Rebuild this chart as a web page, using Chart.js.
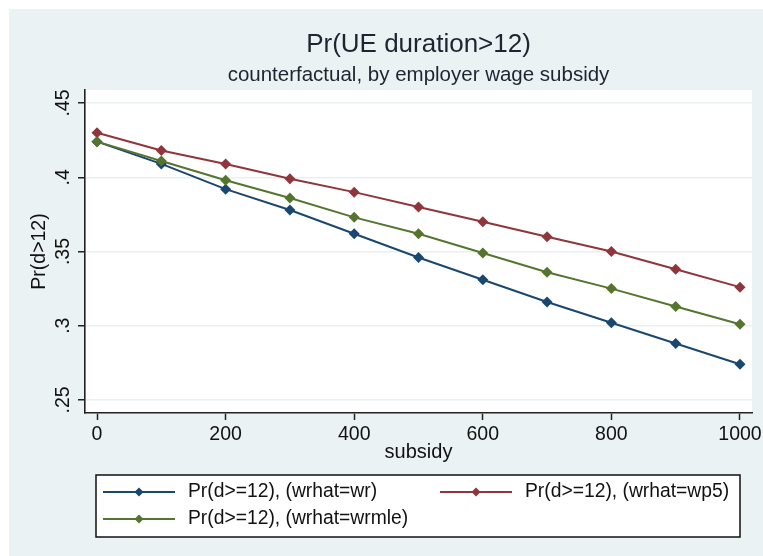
<!DOCTYPE html>
<html>
<head>
<meta charset="utf-8">
<script src="https://cdn.jsdelivr.net/npm/chart.js@4/dist/chart.umd.min.js"></script>
<style>
  body { margin: 0; background: #fff; }
  #wrap { width: 763px; height: 556px; }
</style>
</head>
<body>
<div id="wrap"><canvas id="myChart" width="763" height="556"></canvas></div>
<script>
// subsidy levels on the x axis
const subsidy = [0, 100, 200, 300, 400, 500, 600, 700, 800, 900, 1000];
// Pr(d>=12) for each wage model
const prWr = [0.424, 0.409, 0.392, 0.378, 0.362, 0.346, 0.331, 0.316, 0.302, 0.288, 0.274];
const prWp5 = [0.430, 0.418, 0.409, 0.399, 0.390, 0.380, 0.370, 0.360, 0.350, 0.338, 0.326];
const prWrmle = [0.424, 0.411, 0.398, 0.386, 0.373, 0.362, 0.349, 0.336, 0.325, 0.313, 0.301];

const seriesLabels = ["Pr(d>=12), (wrhat=wr)", "Pr(d>=12), (wrhat=wp5)", "Pr(d>=12), (wrhat=wrmle)"];
const xTicks = [0, 200, 400, 600, 800, 1000];
const xTickLabels = ["0", "200", "400", "600", "800", "1000"];
const yTicks = [0.25, 0.3, 0.35, 0.4, 0.45];
const yTickLabels = [".25", ".3", ".35", ".4", ".45"];

const titleText = "Pr(UE duration>12)";
const subtitleText = "counterfactual, by employer wage subsidy";

const FONT = "'Liberation Sans', Arial, sans-serif";
const BG = "#eaf2f3";

function toPoints(ys) {
  return subsidy.map(function (x, i) { return { x: x, y: ys[i] }; });
}

// Stata-like backdrop, titles and boxed legend
const stataLook = {
  id: "stataLook",
  beforeDraw(chart) {
    const ctx = chart.ctx;
    const a = chart.chartArea;
    ctx.save();
    ctx.fillStyle = "#fff";
    ctx.fillRect(0, 0, chart.width, chart.height);
    ctx.fillStyle = BG;
    ctx.fillRect(9, 9, chart.width - 9, chart.height - 9);
    ctx.fillStyle = "#fff";
    ctx.fillRect(a.left, a.top, a.right - a.left, a.bottom - a.top);
    const cx = (a.left + a.right) / 2;
    ctx.fillStyle = "#1e2430";
    ctx.textAlign = "center";
    ctx.textBaseline = "middle";
    ctx.font = "26px " + FONT;
    ctx.fillText(titleText, cx, 45);
    ctx.font = "20.5px " + FONT;
    ctx.fillText(subtitleText, cx, 75);
    ctx.restore();
  },
  afterDraw(chart) {
    const ctx = chart.ctx;
    const box = { x: 96, y: 475, w: 644, h: 62 };
    ctx.save();
    ctx.fillStyle = "#fff";
    ctx.fillRect(box.x, box.y, box.w, box.h);
    ctx.strokeStyle = "#111";
    ctx.lineWidth = 1.5;
    ctx.strokeRect(box.x, box.y, box.w, box.h);
    const slots = [
      { x: 103, y: 492 },
      { x: 440, y: 492 },
      { x: 103, y: 519 }
    ];
    ctx.font = "19.3px " + FONT;
    ctx.textBaseline = "middle";
    ctx.textAlign = "left";
    chart.data.datasets.forEach(function (ds, i) {
      const s = slots[i];
      ctx.strokeStyle = ds.borderColor;
      ctx.lineWidth = 2;
      ctx.beginPath();
      ctx.moveTo(s.x, s.y);
      ctx.lineTo(s.x + 72, s.y);
      ctx.stroke();
      const mx = s.x + 36, r = 4.5;
      ctx.fillStyle = ds.borderColor;
      ctx.beginPath();
      ctx.moveTo(mx, s.y - r);
      ctx.lineTo(mx + r, s.y);
      ctx.lineTo(mx, s.y + r);
      ctx.lineTo(mx - r, s.y);
      ctx.closePath();
      ctx.fill();
      ctx.fillStyle = "#111";
      ctx.fillText(ds.label, s.x + 85, s.y);
    });
    ctx.restore();
  }
};

const colors = ["#1a476f", "#90353b", "#55752f"];

const datasets = [prWr, prWp5, prWrmle].map(function (ys, i) {
  return {
    label: seriesLabels[i],
    data: toPoints(ys),
    borderColor: colors[i],
    backgroundColor: colors[i],
    borderWidth: 2,
    pointStyle: "rectRot",
    pointRadius: 5.5,
    pointBorderWidth: 0,
    tension: 0,
    order: 3 - i
  };
});

const config = {
  type: "line",
  data: { datasets: datasets },
  plugins: [stataLook],
  options: {
    responsive: false,
    animation: false,
    devicePixelRatio: 1,
    layout: { padding: { left: 0, right: 11, top: 90, bottom: 0 } },
    plugins: {
      legend: { display: false },
      title: { display: false },
      tooltip: { enabled: false }
    },
    scales: {
      x: {
        type: "linear",
        min: -18.7,
        max: 1018.7,
        afterBuildTicks: function (s) { s.ticks = xTicks.map(function (v) { return { value: v }; }); },
        afterFit: function (s) {
          s.height = 143;
          s.paddingLeft = 0;
          s.paddingRight = 0;
        },
        grid: { drawOnChartArea: false, drawTicks: true, tickLength: 7, tickColor: "#222", tickWidth: 1.5 },
        border: { color: "#222", width: 1.6 },
        ticks: {
          color: "#111",
          padding: 3,
          maxRotation: 0,
          font: { family: FONT, size: 19.5 },
          callback: function (v) {
            const k = xTicks.indexOf(v);
            return k >= 0 ? xTickLabels[k] : "";
          }
        },
        title: {
          display: true,
          text: "subsidy",
          color: "#111",
          font: { family: FONT, size: 20 },
          padding: { top: 0, bottom: 92 }
        }
      },
      y: {
        type: "linear",
        min: 0.2412,
        max: 0.4588,
        afterBuildTicks: function (s) { s.ticks = yTicks.map(function (v) { return { value: v }; }); },
        afterFit: function (s) {
          s.width = 85;
          s.paddingTop = 0;
          s.paddingBottom = 0;
        },
        grid: { color: "#eaf0f2", lineWidth: 1.5, drawTicks: true, tickLength: 7, tickColor: "#222", tickWidth: 1.5 },
        border: { color: "#222", width: 1.6 },
        ticks: {
          color: "#111",
          padding: 1,
          minRotation: 90,
          maxRotation: 90,
          crossAlign: "center",
          font: { family: FONT, size: 19.5 },
          callback: function (v) {
            const k = yTicks.indexOf(v);
            return k >= 0 ? yTickLabels[k] : "";
          }
        },
        title: {
          display: true,
          text: "Pr(d>12)",
          color: "#111",
          font: { family: FONT, size: 19.5 },
          padding: { top: 28, bottom: 0 }
        }
      }
    }
  }
};

window.myChart = new Chart(document.getElementById("myChart"), config);
</script>
</body>
</html>
